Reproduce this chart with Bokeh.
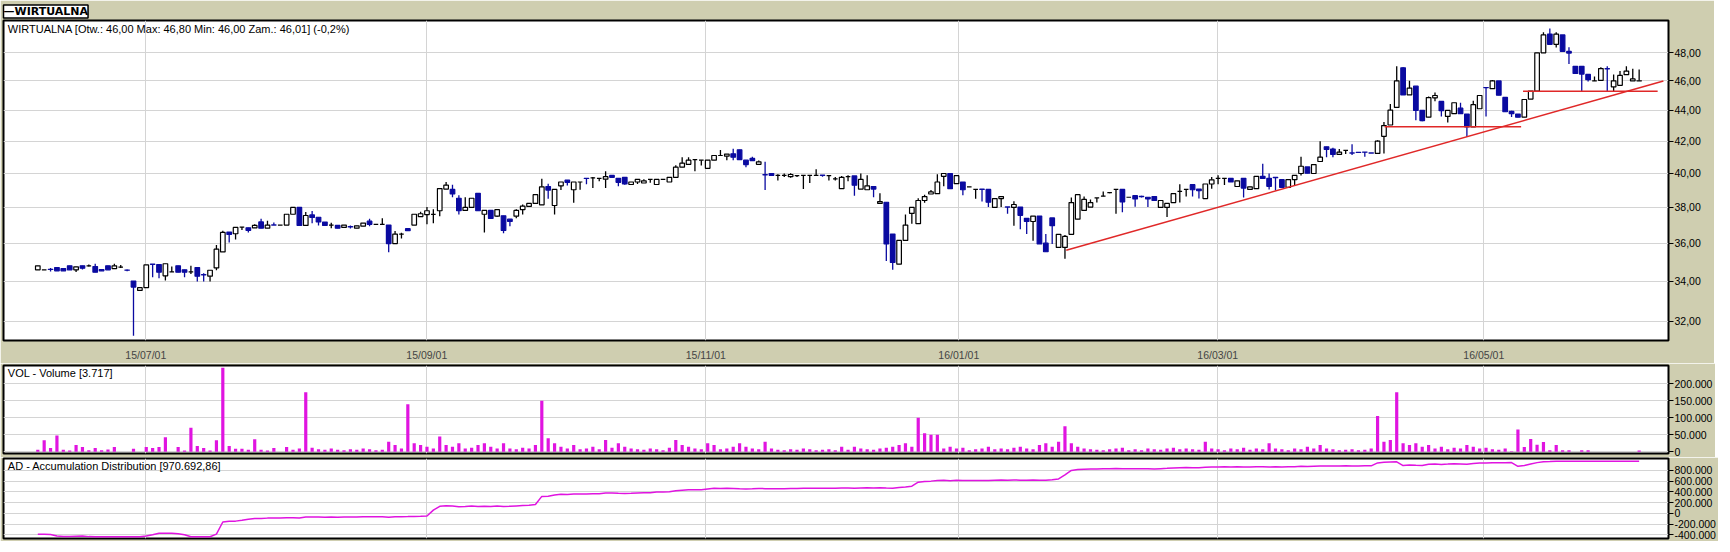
from bokeh.plotting import figure
from bokeh.models import FixedTicker, Label, Range1d, ColumnDataSource, Title
from bokeh.layouts import column
from bokeh.embed import file_html
from bokeh.resources import INLINE

# ---------------- data ----------------
opens = [34.58,34.58,34.61,34.70,34.65,34.79,34.58,34.79,34.79,34.75,
34.60,34.79,34.65,34.72,34.57,34.00,33.52,33.66,34.88,34.86,
34.27,34.47,34.79,34.58,34.47,34.70,34.33,34.25,34.68,35.53,
36.61,36.52,36.89,36.85,36.85,37.18,36.83,37.01,37.00,37.00,
37.61,38.00,36.98,37.57,37.44,37.17,37.00,36.98,36.87,36.91,
36.83,36.94,37.22,37.04,37.04,37.00,35.98,36.50,36.80,37.00,
37.48,37.59,37.60,37.81,39.07,39.05,38.53,37.83,38.00,38.82,
37.61,37.83,37.50,37.52,37.33,37.50,37.87,38.06,38.23,38.15,
39.22,38.11,39.26,39.60,39.03,39.49,39.71,39.73,39.70,39.66,
39.88,39.71,39.77,39.34,39.49,39.43,39.64,39.34,39.64,39.49,
39.77,40.38,40.56,40.85,40.81,40.31,40.81,41.10,41.06,41.21,
41.46,40.81,40.92,40.56,39.93,40.00,39.89,39.89,39.81,39.87,
39.89,39.89,39.89,39.90,39.87,39.68,39.09,39.81,39.85,39.07,
39.03,39.22,38.23,38.30,36.50,34.88,36.15,37.66,37.08,38.40,
38.78,38.80,39.83,40.00,39.39,39.49,39.20,39.05,39.06,39.05,
38.00,38.51,38.03,38.00,38.02,37.38,37.20,37.51,36.00,37.40,
35.77,35.77,36.49,37.33,37.83,38.02,38.55,38.65,38.86,39.05,
39.05,38.59,38.68,38.64,38.59,38.63,38.00,38.00,38.28,38.93,
39.05,39.33,39.07,38.51,39.37,39.70,39.71,39.71,39.22,39.71,
39.05,39.09,39.83,39.71,39.76,39.63,39.17,39.63,40.00,40.40,
40.00,40.73,41.65,41.50,41.17,41.42,41.26,41.30,41.32,41.26,
41.23,42.31,43.04,44.20,46.92,45.04,45.64,44.00,43.55,44.84,
44.60,43.60,43.78,44.15,43.76,42.92,44.11,45.54,45.47,46.00,
44.87,43.93,43.76,43.55,44.76,45.30,48.00,49.38,48.62,49.31,
48.10,47.03,47.03,46.46,46.00,46.04,46.86,45.59,45.70,46.44,
46.00,46.00]

closes = [34.79,34.58,34.60,34.53,34.53,34.58,34.74,34.67,34.79,34.46,
34.53,34.58,34.79,34.72,34.56,33.69,33.66,34.84,34.87,34.46,
34.90,34.47,34.46,34.46,34.47,34.25,34.32,34.56,35.68,36.59,
36.48,36.87,36.89,36.70,36.98,36.83,37.00,37.00,37.00,37.61,
38.00,36.98,37.54,37.43,37.18,36.98,37.00,36.83,37.00,36.90,
36.96,37.11,37.04,37.04,37.04,35.98,36.50,36.50,36.69,37.61,
37.64,37.81,37.60,39.10,39.30,38.78,37.81,38.00,38.53,37.81,
37.83,37.37,37.87,36.70,37.20,37.83,38.08,38.23,38.74,39.20,
39.01,39.05,39.49,39.47,39.49,39.49,39.70,39.73,39.70,39.81,
39.77,39.47,39.37,39.49,39.64,39.56,39.64,39.64,39.64,39.77,
40.38,40.63,40.81,40.85,40.81,40.81,41.10,41.10,41.19,41.00,
40.85,40.54,40.79,40.71,39.92,39.89,39.89,39.89,39.94,39.87,
39.89,39.89,39.89,39.89,39.87,39.68,39.77,39.81,39.30,39.64,
39.26,39.07,38.34,35.96,34.97,36.15,37.00,38.00,38.40,38.63,
38.90,39.49,40.00,39.09,39.87,39.03,39.20,39.05,39.05,38.30,
38.51,38.63,38.02,38.17,37.55,37.20,37.51,35.96,35.54,36.97,
36.49,36.37,38.28,38.74,38.46,38.28,38.55,38.65,38.86,39.05,
38.32,38.59,38.49,38.63,38.49,38.40,38.40,38.23,38.80,38.93,
39.05,39.03,38.97,39.37,39.62,39.70,39.71,39.49,39.56,39.13,
39.20,39.83,39.70,39.23,39.75,39.17,39.63,39.88,40.44,40.02,
40.54,41.00,41.48,41.17,41.31,41.42,41.25,41.29,41.31,41.25,
42.00,43.00,44.02,46.00,45.04,45.51,44.00,43.33,44.86,45.00,
43.98,44.00,44.51,43.78,42.92,44.38,45.00,45.53,46.00,45.02,
43.91,43.78,43.55,44.73,45.30,48.00,49.31,48.62,49.38,48.11,
47.98,46.53,46.48,46.09,46.00,46.87,46.85,46.00,46.39,46.69,
46.14,46.01]

highs = [34.79,34.58,34.68,34.70,34.65,34.79,34.74,34.79,34.86,34.90,
34.60,34.79,34.90,34.83,34.60,34.00,33.66,34.84,34.88,34.86,
34.90,34.75,34.79,34.58,34.79,34.70,34.40,34.56,35.90,36.68,
36.61,36.87,36.89,36.85,37.05,37.35,37.24,37.15,37.00,37.61,
38.00,38.00,37.74,37.80,37.44,37.17,37.13,36.98,37.00,36.98,
36.96,37.11,37.35,37.04,37.39,37.00,36.67,36.57,36.80,37.61,
37.75,38.02,37.90,39.10,39.49,39.33,38.70,38.59,38.53,38.82,
37.83,37.83,37.90,37.52,37.33,37.90,38.17,38.23,38.74,39.68,
39.39,39.05,39.49,39.60,39.49,39.49,39.71,39.79,39.70,40.13,
39.88,39.71,39.77,39.49,39.64,39.66,39.64,39.64,39.64,39.77,
40.50,41.00,41.00,40.85,40.81,40.81,41.10,41.44,41.19,41.52,
41.46,40.81,41.02,40.79,40.71,40.00,39.96,40.00,40.02,39.87,
39.89,39.89,40.25,39.90,39.87,39.79,39.85,39.90,39.85,40.00,
39.90,39.22,38.82,38.30,36.50,36.15,37.59,38.00,38.53,38.74,
39.01,39.96,40.00,40.00,39.87,39.49,39.20,39.05,39.06,39.05,
38.51,38.63,38.03,38.36,38.02,37.38,37.51,37.51,36.50,37.40,
36.49,36.45,38.57,38.74,38.63,38.46,38.55,38.93,38.90,39.05,
39.05,38.59,38.68,38.68,38.59,38.63,38.40,38.23,38.80,39.36,
39.05,39.33,39.07,39.37,39.79,39.90,39.71,39.71,39.56,39.71,
39.20,39.83,40.60,40.00,39.76,39.63,39.63,39.88,41.02,40.40,
40.54,42.00,41.65,41.58,41.50,41.42,41.81,41.30,41.32,41.26,
42.06,43.23,44.42,47.03,46.97,46.02,45.64,44.00,44.93,45.20,
44.60,44.00,44.51,44.51,43.76,44.64,45.00,45.54,46.07,46.00,
44.87,43.98,43.76,44.73,45.30,48.00,49.52,49.79,49.52,49.31,
48.41,47.03,47.03,46.46,46.32,46.97,47.03,46.46,46.69,47.03,
46.85,46.80]

lows = [34.58,34.58,34.50,34.53,34.53,34.58,34.47,34.60,34.76,34.46,
34.53,34.58,34.65,34.68,34.51,31.30,33.52,33.66,34.20,34.14,
34.03,34.47,34.46,34.20,34.37,33.98,33.98,33.98,34.56,35.53,
36.04,36.20,36.72,36.59,36.85,36.83,36.83,37.00,37.00,37.00,
37.61,36.98,36.98,37.10,36.98,36.98,36.83,36.83,36.87,36.81,
36.83,36.94,36.94,37.04,37.04,35.51,35.98,36.26,36.69,37.00,
37.48,37.04,37.10,37.50,39.07,38.59,37.59,37.83,38.00,37.81,
36.59,37.37,37.46,36.54,36.93,37.39,37.59,38.06,38.23,38.15,
38.50,37.59,39.01,39.28,38.27,39.03,39.36,39.13,39.54,39.13,
39.77,39.24,39.32,39.34,39.37,39.43,39.45,39.34,39.64,39.49,
39.77,40.38,40.56,40.13,40.48,40.31,40.81,41.10,40.81,40.81,
40.85,40.38,40.79,40.56,39.01,39.89,39.58,39.79,39.75,39.79,
39.07,39.43,39.89,39.81,39.58,39.58,39.09,39.54,38.67,39.07,
39.03,38.59,38.23,35.05,34.58,34.88,36.15,37.08,37.08,38.27,
38.78,38.80,39.24,39.09,39.39,38.70,39.20,38.50,38.34,38.02,
38.00,38.02,37.64,36.97,36.77,36.51,36.13,35.96,35.54,35.96,
35.77,35.17,36.49,37.33,37.83,38.02,38.28,38.65,38.82,37.64,
37.72,38.59,38.04,38.57,38.02,38.40,38.00,37.45,38.28,38.28,
38.63,38.63,38.51,38.51,39.09,39.35,39.31,39.49,39.22,38.57,
39.05,39.09,39.70,39.04,38.98,39.17,39.17,39.29,39.88,40.02,
40.00,40.73,41.00,41.00,41.17,41.19,41.13,41.29,41.02,41.25,
41.23,41.23,43.04,44.20,45.04,45.04,43.35,43.29,43.55,44.62,
43.59,43.20,43.78,43.78,42.27,42.92,44.11,43.59,45.47,45.02,
43.91,43.57,43.55,43.55,44.76,45.30,48.00,48.62,48.39,48.11,
47.19,46.53,45.30,45.96,46.00,46.04,45.30,45.30,45.70,46.44,
46.00,46.00]

# volume in thousands of shares
volume_k = [6,34,11,48,6,4,20,14,5,11,
5,7,14,0,0,9,0,14,11,14,
43,0,14,4,71,17,11,4,34,247,
17,9,9,6,37,6,4,11,0,14,
6,10,175,12,8,6,10,6,5,8,
6,10,8,5,6,30,20,10,140,25,
20,15,10,45,20,15,25,10,12,20,
25,15,10,25,10,8,12,10,20,150,
40,25,15,10,20,8,10,15,8,35,
12,25,15,10,8,6,10,8,5,12,
35,20,15,10,8,25,20,8,10,15,
25,15,10,8,30,10,6,5,8,6,
10,8,5,6,8,5,15,6,15,10,
8,6,10,12,15,20,25,15,100,55,
50,50,10,15,10,12,5,8,10,15,
8,10,8,12,15,10,8,20,25,15,
30,75,25,15,10,8,6,5,8,10,
12,5,8,5,10,8,6,10,12,8,
10,8,6,30,10,8,5,10,8,12,
6,10,8,25,10,8,5,10,8,15,
10,20,10,8,5,6,8,5,6,10,
105,30,35,175,25,20,25,15,20,10,
15,8,12,10,20,15,10,12,8,6,
10,2,66,14,38,21,29,5,20,5,
5,0,5,5,0,0,0,0,0,0,
0,3.717]

# accumulation / distribution in thousands
ad_k = [-389,-389,-395,-422,-432,-432,-428,-425,-435,-438,
-438,-438,-438,-438,-438,-438,-438,-425,-400,-373,
-373,-373,-380,-400,-438,-438,-438,-438,-389,-162,
-150,-146,-130,-110,-95,-95,-90,-87,-87,-85,
-85,-88,-70,-68,-70,-72,-70,-72,-70,-70,
-68,-65,-66,-66,-64,-72,-65,-63,-62,-58,
-55,-50,60,130,140,135,120,125,135,125,
130,125,135,128,130,138,145,150,165,315,
320,340,355,352,358,358,360,365,365,380,
378,372,368,372,380,383,385,395,395,400,
420,430,438,440,440,455,465,463,465,463,
458,455,458,462,460,458,458,460,462,462,
465,467,465,465,467,465,470,472,468,474,
476,474,476,470,468,480,490,505,580,595,
600,610,615,608,615,612,612,614,612,610,
615,620,618,622,618,615,622,618,615,625,
640,715,800,815,820,825,828,830,832,836,
830,832,830,831,829,827,833,838,845,850,
852,850,848,858,862,864,866,864,867,862,
864,870,868,864,866,862,866,870,876,872,
878,884,882,880,884,886,884,884,885,885,
940,950,955,960,890,900,895,892,915,920,
912,918,925,920,915,930,938,940,945,942,
945,946,876,890,920,945,960,965,972,970,
970,970,969,971,971,971,971,971,971,971,
971,970.69286]

date_tick_pos = [16.93, 60.97, 104.7, 144.36, 184.95, 226.65]
date_tick_labels = ["15/07/01", "15/09/01", "15/11/01", "16/01/01", "16/03/01", "16/05/01"]
price_ticks = [32, 34, 36, 38, 40, 42, 44, 46, 48]
price_tick_labels = ["32,00", "34,00", "36,00", "38,00", "40,00", "42,00", "44,00", "46,00", "48,00"]
vol_ticks = [0, 50000, 100000, 150000, 200000]
vol_tick_labels = ["0", "50.000", "100.000", "150.000", "200.000"]
ad_ticks = [-400000, -200000, 0, 200000, 400000, 600000, 800000]
ad_tick_labels = ["-400.000", "-200.000", "0", "200.000", "400.000", "600.000", "800.000"]

trend_idx = [161.2, 254.8]
trend_price = [35.62, 46.0]
support1_idx = [211.1, 232.5]
support1_price = [42.92, 42.92]
support2_idx = [232.8, 253.9]
support2_price = [45.29, 45.29]
event_idx = [15, 25, 45, 70, 92, 152, 192, 195, 221, 229]

tab_text = "\u2014WIRTUALNA"
title_text = "WIRTUALNA [Otw.: 46,00  Max: 46,80  Min: 46,00  Zam.: 46,01] (-0,2%)"
vol_text = "VOL - Volume [3.717]"
ad_text = "AD - Accumulation Distribution [970.692,86]"

# ---------------- style ----------------
BG = "#CFCEB0"
BLUE = "#0A0AA0"
MAG = "#E014E0"
RED = "#E02828"
GRID = "#D4D4D4"
FONT = "Liberation Sans"
FRAME_W = 1665
LEFT = 3
RIGHT = 46

n = len(opens)
idx = list(range(n))
up = [c >= o for o, c in zip(opens, closes)]
src = ColumnDataSource(dict(
    x=idx, o=opens, h=highs, l=lows, c=closes,
    top=[max(o, c) for o, c in zip(opens, closes)],
    bot=[min(o, c) for o, c in zip(opens, closes)],
    fill=["white" if u else BLUE for u in up],
    line=["black" if u else BLUE for u in up],
))

x_range = Range1d(-5.376, 255.6)


def style_common(p):
    p.background_fill_color = "white"
    p.border_fill_color = BG
    p.outline_line_color = "black"
    p.outline_line_width = 2
    p.min_border_left = LEFT
    p.min_border_right = RIGHT
    p.xgrid.grid_line_color = GRID
    p.ygrid.grid_line_color = GRID
    p.xgrid.ticker = FixedTicker(ticks=date_tick_pos)


def style_yaxis(ax, ticks, labels):
    ax.ticker = FixedTicker(ticks=ticks)
    ax.major_label_overrides = dict(zip(ticks, labels))
    ax.axis_line_color = None
    ax.major_tick_line_color = "black"
    ax.major_tick_out = 5
    ax.major_tick_in = 0
    ax.minor_tick_line_color = None
    ax.major_label_text_font = FONT
    ax.major_label_text_font_size = "10.5px"
    ax.major_label_text_color = "black"
    ax.major_label_standoff = 1


# ---------------- price panel ----------------
p = figure(frame_width=FRAME_W, frame_height=320, x_range=x_range,
           y_range=Range1d(31.08, 50.4), y_axis_type="log", y_axis_location="right",
           output_backend="svg", toolbar_location=None)
style_common(p)
p.min_border_top = 0
p.min_border_bottom = 0
tab = Title(text=tab_text, align="left", text_font="DejaVu Sans", text_font_size="11px",
            text_font_style="bold", text_color="black", background_fill_color="white",
            border_line_color="black", border_line_width=1.5, standoff=5, offset=0)
p.add_layout(tab, "above")
style_yaxis(p.yaxis[0], price_ticks, price_tick_labels)
xa = p.xaxis[0]
xa.ticker = FixedTicker(ticks=date_tick_pos)
xa.major_label_overrides = dict(zip(date_tick_pos, date_tick_labels))
xa.axis_line_color = None
xa.major_tick_line_color = None
xa.minor_tick_line_color = None
xa.major_label_text_font = FONT
xa.major_label_text_font_size = "10.5px"
xa.major_label_standoff = 2

p.segment(x0="x", y0="l", x1="x", y1="h", line_color="line", line_width=1.3, source=src)
p.vbar(x="x", top="top", bottom="bot", width=0.72, fill_color="fill", line_color="line",
       line_width=1.2, source=src)
p.line(trend_idx, trend_price, line_color=RED, line_width=1.5)
p.line(support1_idx, support1_price, line_color=RED, line_width=1.5)
p.line(support2_idx, support2_price, line_color=RED, line_width=1.5)
p.add_layout(Label(x=-4.7, y=50.2, text=title_text, text_baseline="top",
                   text_font=FONT, text_font_size="11px", text_color="black"))

# ---------------- volume panel ----------------
v = figure(frame_width=FRAME_W, frame_height=88, x_range=x_range,
           y_range=Range1d(-4800, 253700), y_axis_location="right",
           output_backend="svg", toolbar_location=None)
style_common(v)
v.min_border_top = 2
v.min_border_bottom = 4
v.xaxis.visible = False
style_yaxis(v.yaxis[0], vol_ticks, vol_tick_labels)
v.vbar(x=idx, top=[k * 1000 for k in volume_k], bottom=0, width=0.5,
       fill_color=MAG, line_color=None)
v.add_layout(Label(x=-4.7, y=250000, text=vol_text, text_baseline="top",
                   text_font=FONT, text_font_size="11px", text_color="black"))

# ---------------- AD panel ----------------
a = figure(frame_width=FRAME_W, frame_height=80, x_range=x_range,
           y_range=Range1d(-470000, 1022000), y_axis_location="right",
           output_backend="svg", toolbar_location=None)
style_common(a)
a.min_border_top = 1
a.min_border_bottom = 3
a.xaxis.visible = False
style_yaxis(a.yaxis[0], ad_ticks, ad_tick_labels)
a.line(idx, [k * 1000 for k in ad_k], line_color=MAG, line_width=1.5)
a.add_layout(Label(x=-4.7, y=1000000, text=ad_text, text_baseline="top",
                   text_font=FONT, text_font_size="11px", text_color="black"))

# ---------------- event strip ----------------
e = figure(frame_width=FRAME_W, frame_height=4, x_range=x_range, y_range=Range1d(0, 1),
           output_backend="svg", toolbar_location=None)
e.background_fill_color = BG
e.border_fill_color = BG
e.outline_line_color = None
e.min_border_left = LEFT
e.min_border_right = RIGHT
e.min_border_top = 0
e.min_border_bottom = 0
e.axis.visible = False
e.grid.visible = False
e.vbar(x=event_idx, top=1, bottom=0, width=1.1, fill_color="#D02020", line_color=None)

layout = column(p, v, a, e, spacing=0)
open("out.html", "w").write(file_html(layout, INLINE))
